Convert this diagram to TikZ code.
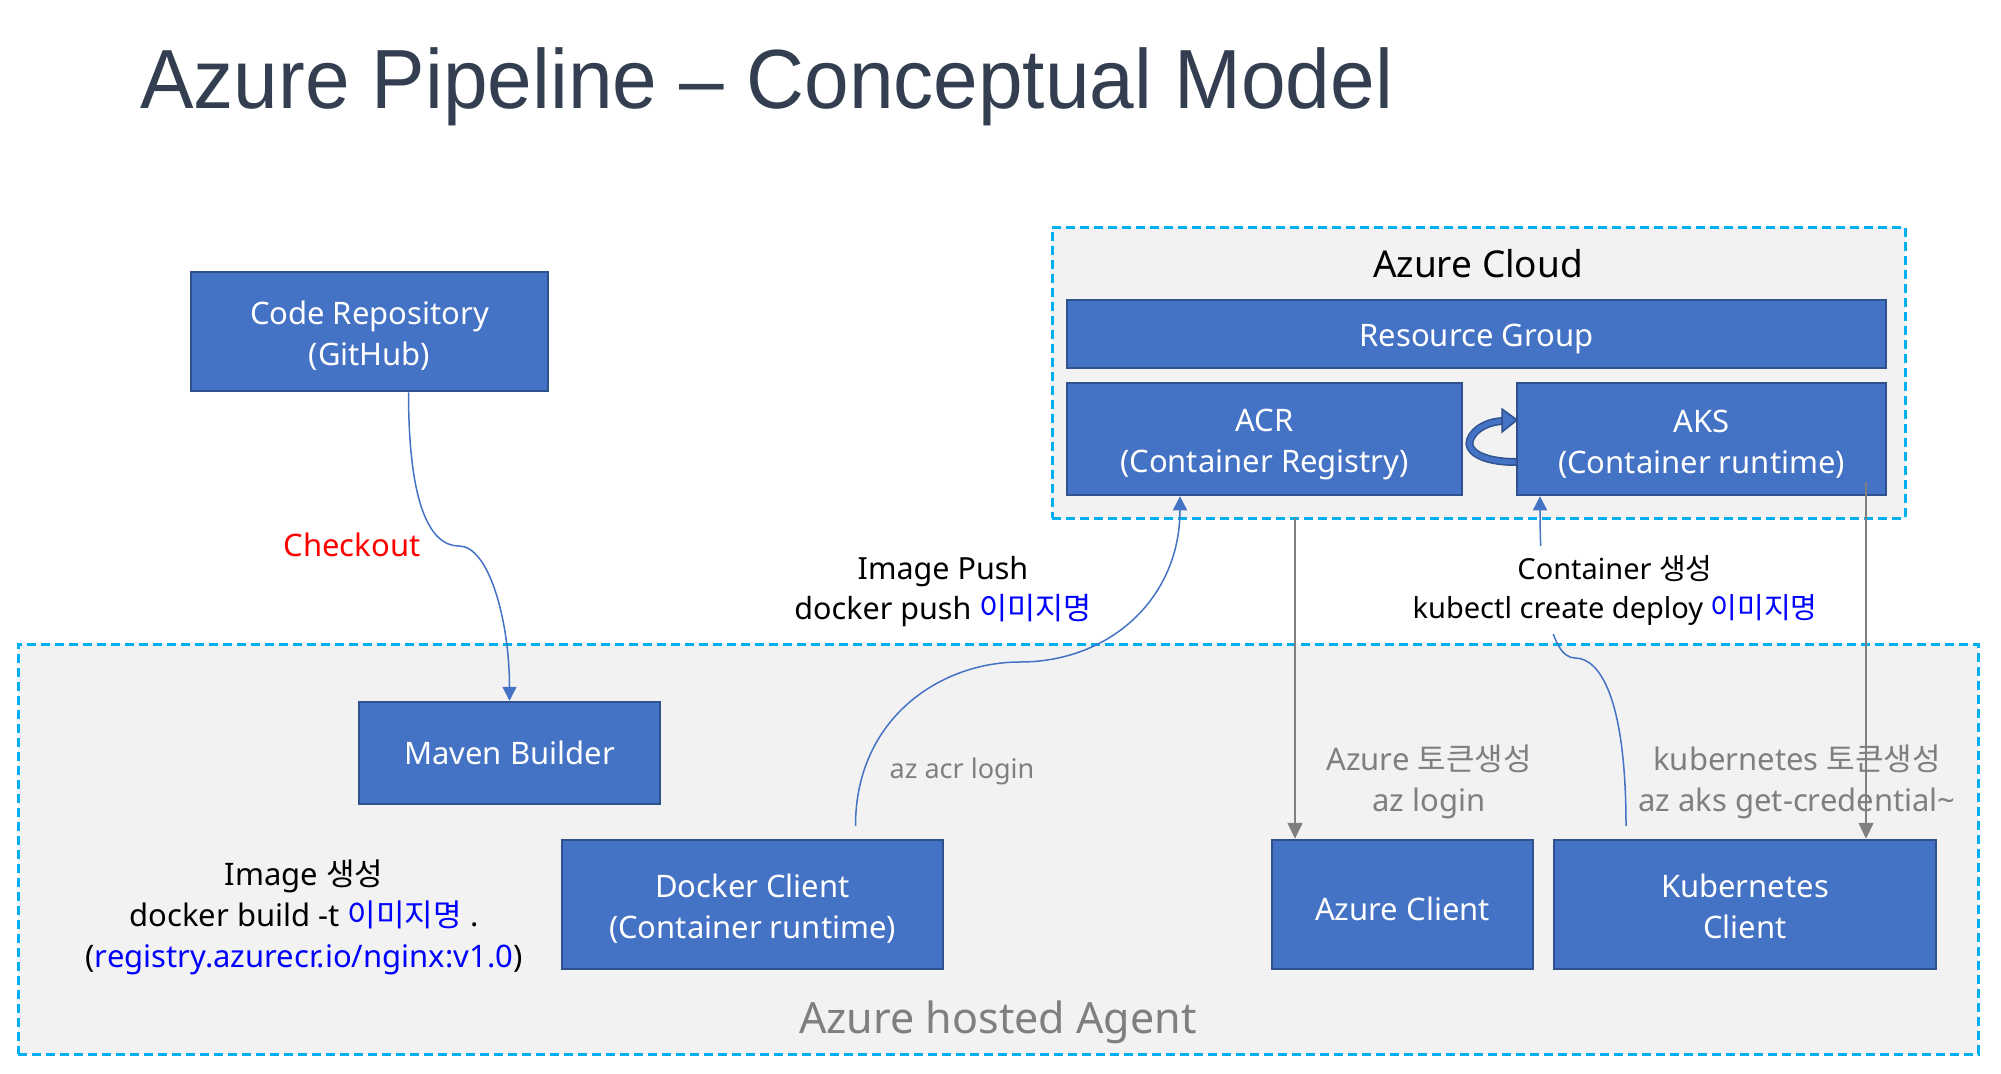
\documentclass[tikz,border=0pt]{standalone}
\usepackage{fontspec}
\setmainfont{Noto Sans}
\newfontfamily\krfont{Noto Sans CJK KR}
\newfontfamily\titlefont[FakeStretch=0.955]{Liberation Sans}
\usetikzlibrary{arrows.meta}

\definecolor{boxblue}{HTML}{4472C4}
\definecolor{boxline}{HTML}{2F528F}
\definecolor{zonecyan}{HTML}{00B0F0}
\definecolor{zonegray}{HTML}{F2F2F2}
\definecolor{labelgray}{HTML}{7F7F7F}
\definecolor{titleink}{HTML}{333F50}
\definecolor{imgblue}{HTML}{0000FF}

\newcommand{\kr}[1]{{\krfont #1}}
\newcommand{\imgname}{\textcolor{imgblue}{\kr{이미지명}}}
\newcommand{\tall}[1][1.05em]{\rule{0pt}{#1}}

\tikzset{
  block/.style={draw=boxline, line width=2.5pt, fill=boxblue, text=white,
    align=center, inner sep=0pt, font=\fontsize{31}{41}\selectfont},
  zone/.style={draw=zonecyan, line width=3pt, dash pattern=on 9pt off 5pt,
    fill=zonegray},
  flow/.style={draw=boxblue, line width=1.5pt,
    -{Triangle[length=14pt,width=14pt]}},
  token/.style={draw=labelgray, line width=1.5pt,
    -{Triangle[length=16pt,width=15pt]}},
  note/.style={align=center, inner sep=0pt, font=\fontsize{30}{40}\selectfont},
}

\begin{document}
\begin{tikzpicture}[x=1pt, y=-1pt]
\useasboundingbox (0,0) rectangle (2001,1073);

% title
\node[anchor=base west, inner sep=0pt, text=titleink,
      font=\titlefont\fontsize{84}{90}\selectfont] (title) at (140,108)
      {Azure Pipeline – Conceptual Model};

% zones
\node[zone, minimum width=853pt, minimum height=291pt] (cloud) at (1478.5,372.5) {};
\node[zone, minimum width=1960pt, minimum height=410pt] (agent) at (998,849) {};
\node[anchor=base, inner sep=0pt, font=\fontsize{37}{40}\selectfont] (cloudlabel)
      at (1478,277) {Azure Cloud};
\node[anchor=base, inner sep=0pt, text=labelgray, font=\fontsize{43}{46}\selectfont]
      (agentlabel) at (998,1033) {Azure hosted Agent};

% cloud side
\node[block, minimum width=819pt, minimum height=68pt] (rg) at (1476.5,334) {\tall Resource Group};
\node[block, minimum width=395pt, minimum height=112pt] (acr) at (1264.5,439)
      {\tall ACR\\(Container Registry)};
\node[block, minimum width=369pt, minimum height=112pt] (aks) at (1701.5,439)
      {\tall AKS\\(Container runtime)};

% refresh arrow between acr and aks
\draw[draw=boxline, double=boxblue, double distance=5pt, line width=1.5pt]
  (1516,462) .. controls (1480,462) and (1466,450) .. (1470,440)
  .. controls (1474,428) and (1490,421) .. (1504,421);
\fill[boxblue, draw=boxline, line width=1.5pt]
  (1502,409) -- (1517,420) -- (1502,432) -- cycle;

% repository and agent side
\node[block, minimum width=357pt, minimum height=119pt] (repo) at (369.5,331.5)
      {\tall Code Repository\\(GitHub)};
\node[block, minimum width=301pt, minimum height=102pt] (maven) at (509.5,753)
      {Maven Builder};
\node[block, minimum width=381pt, minimum height=129pt] (docker) at (752.5,904.5)
      {\tall Docker Client\\(Container runtime)};
\node[block, minimum width=261pt, minimum height=129pt] (azclient) at (1402.5,904.5)
      {\tall Azure Client};
\node[block, minimum width=382pt, minimum height=129pt] (k8sclient) at (1745,904.5)
      {\tall[0.88em]Kubernetes\\Client};

% checkout
\coordinate (checkoutbend) at (459,546);
\draw[flow] ([xshift=39pt]repo.south) .. controls +(0,110) and +(-30,0) .. (checkoutbend)
  .. controls +(30,0) and +(0,-80) .. (maven.north);
\node[anchor=base, inner sep=0pt, text=red, font=\fontsize{31}{40}\selectfont]
      (checkout) at (352,556) {Checkout};

% image push
\coordinate (pushbend) at (1020,662);
\draw[flow] ([xshift=103pt,yshift=13pt]docker.north) .. controls +(0,-107) and +(-80,0) .. (pushbend)
  .. controls +(90,0) and +(0,102) .. ([xshift=-84.5pt]acr.south);
\node[note, font=\fontsize{30.5}{40}\selectfont] (push) at (943,592) {Image Push\\docker push \imgname};
\node[anchor=base, inner sep=0pt, text=labelgray, font=\fontsize{27}{30}\selectfont]
      (acrlogin) at (962,778) {az acr login};

% container deploy
\coordinate (deploybend) at (1575,658);
\draw[flow] ([xshift=-119pt,yshift=13pt]k8sclient.north) .. controls +(0,-127) and +(25,0) .. (deploybend)
  .. controls +(-25,0) and +(0,97) .. ([xshift=-161.5pt]aks.south);
\node[note, fill=white, inner sep=9pt, font=\fontsize{29}{39}\selectfont] (deploy)
      at (1615,590) {Container \kr{생성}\\kubectl create deploy \imgname};

% tokens
\coordinate (azfrom) at (1295,518);
\coordinate (k8sfrom) at (1866,482);
\draw[token] (azfrom) -- (azfrom |- azclient.north);
\draw[token] (k8sfrom) -- (k8sfrom |- k8sclient.north);
\node[note, text=labelgray, font=\fontsize{31}{41}\selectfont] (aztoken) at (1429,782)
      {Azure \kr{토큰생성}\\az login};
\node[note, text=labelgray, font=\fontsize{31}{41}\selectfont] (k8stoken) at (1797,782)
      {kubernetes \kr{토큰생성}\\az aks get-credential\textasciitilde};

% image build
\node[note, font=\fontsize{31}{41}\selectfont] (build) at (304,917)
      {Image \kr{생성}\\docker build -t \imgname{} .\\(\textcolor{imgblue}{registry.azurecr.io/nginx:v1.0})};
\end{tikzpicture}
\end{document}
